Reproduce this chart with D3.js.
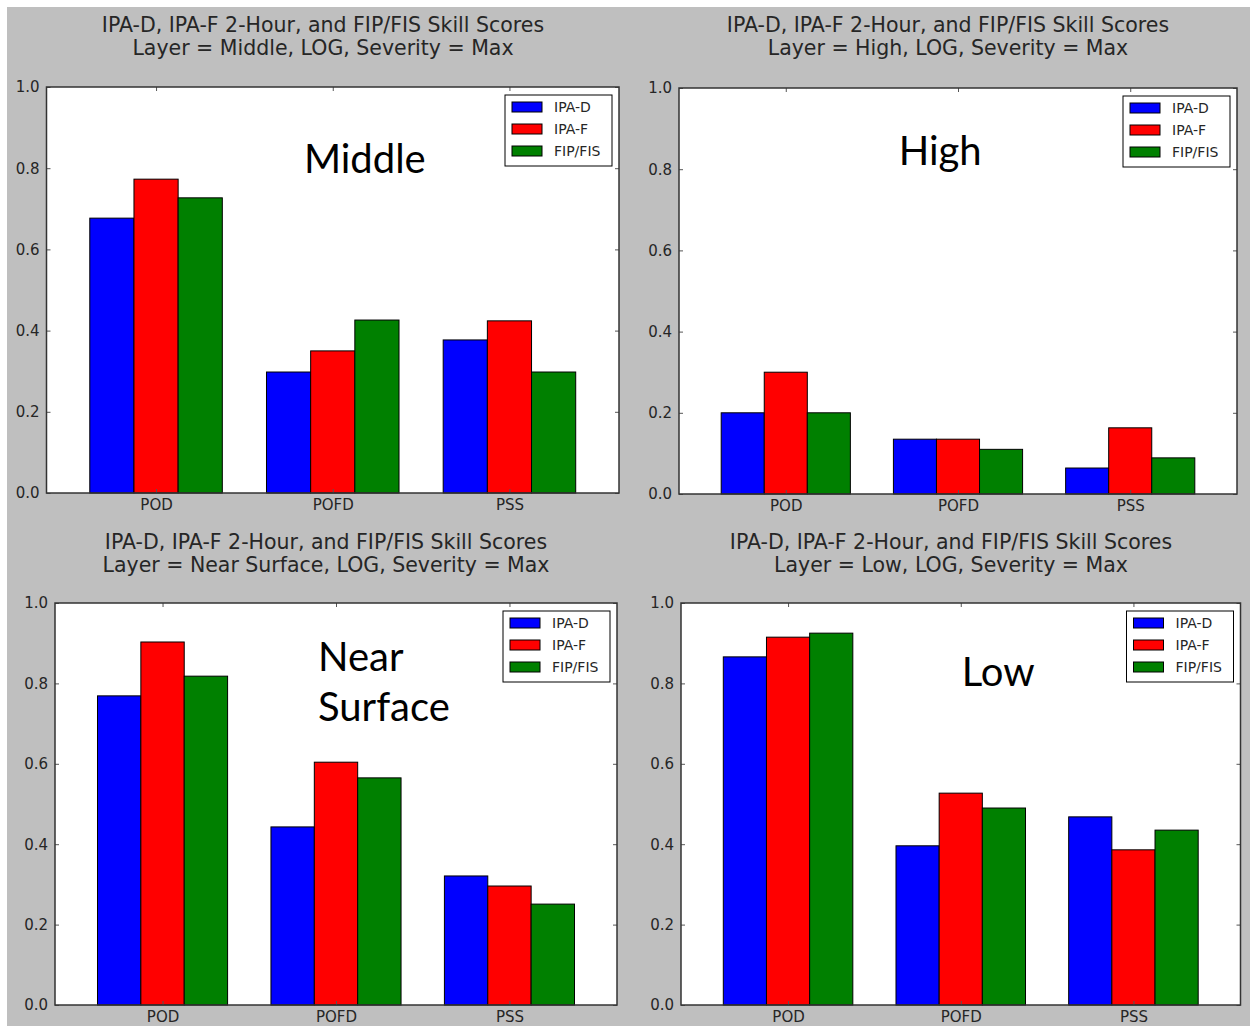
<!DOCTYPE html>
<html>
<head>
<meta charset="utf-8">
<script src="https://cdn.jsdelivr.net/npm/d3@7"></script>
<style>
  html, body { margin: 0; padding: 0; background: #ffffff; }
  svg { display: block; }
</style>
</head>
<body>
<svg id="chart" width="1250" height="1031"></svg>
<script>
// Skill-score categories and forecast products
const categories = ["POD", "POFD", "PSS"];
const seriesNames = ["IPA-D", "IPA-F", "FIP/FIS"];
const seriesColors = ["#0000ff", "#ff0000", "#008000"];
const yTicks = [0.0, 0.2, 0.4, 0.6, 0.8, 1.0];

// Scores per product (rows: IPA-D, IPA-F, FIP/FIS; columns: POD, POFD, PSS)
const middleValues = [
  [0.677, 0.298, 0.377],
  [0.773, 0.350, 0.424],
  [0.727, 0.426, 0.298]
];
const highValues = [
  [0.200, 0.135, 0.064],
  [0.300, 0.135, 0.163],
  [0.200, 0.110, 0.089]
];
const nearSurfaceValues = [
  [0.769, 0.443, 0.321],
  [0.903, 0.604, 0.296],
  [0.818, 0.565, 0.251]
];
const lowValues = [
  [0.866, 0.396, 0.468],
  [0.915, 0.527, 0.386],
  [0.925, 0.490, 0.435]
];

const layerNames = ["Middle", "High", "Near Surface", "Low"];
const layerLabels = [["Middle"], ["High"], ["Near", "Surface"], ["Low"]];
const layerValues = [middleValues, highValues, nearSurfaceValues, lowValues];

// Axes boxes for the 2x2 grid
const panels = [
  { left: 46.5, right: 619,   top: 87,  bottom: 493,  titleX: 323, titleY: 32,
    note: { x: 0.556, y: 0.212, anchor: "middle" } },
  { left: 679,  right: 1237,  top: 88,  bottom: 494,  titleX: 948, titleY: 32,
    note: { x: 0.468, y: 0.190, anchor: "middle" } },
  { left: 55,   right: 617,   top: 603, bottom: 1005, titleX: 326, titleY: 549,
    note: { x: 0.468, y: 0.168, anchor: "start", lineGap: 50 } },
  { left: 681,  right: 1240.5,top: 603, bottom: 1005, titleX: 951, titleY: 549,
    note: { x: 0.567, y: 0.206, anchor: "middle" } }
];

const svg = d3.select("#chart");
const titleFont = "'DejaVu Sans', sans-serif";
const textColor = "#262626";

// Figure background
svg.append("rect")
  .attr("x", 7).attr("y", 7)
  .attr("width", 1243).attr("height", 1019)
  .attr("fill", "#bfbfbf");

const barWidth = 0.25;
const offsets = [-0.375, -0.125, 0.125];

panels.forEach((p, pi) => {
  const g = svg.append("g");
  const x = d3.scaleLinear().domain([-0.62, 2.62]).range([p.left, p.right]);
  const y = d3.scaleLinear().domain([0, 1]).range([p.bottom, p.top]);

  // Axes face
  g.append("rect")
    .attr("x", p.left).attr("y", p.top)
    .attr("width", p.right - p.left).attr("height", p.bottom - p.top)
    .attr("fill", "#ffffff");

  // Bars
  layerValues[pi].forEach((vals, si) => {
    g.selectAll(null)
      .data(vals)
      .enter().append("rect")
      .attr("x", (d, ci) => x(ci + offsets[si]))
      .attr("width", (d, ci) => x(ci + offsets[si] + barWidth) - x(ci + offsets[si]))
      .attr("y", d => y(d))
      .attr("height", d => y(0) - y(d))
      .attr("fill", seriesColors[si])
      .attr("stroke", "#000")
      .attr("stroke-width", 1);
  });

  // Inward ticks on all four sides
  const tickLen = 4;
  const tickColor = "#555";
  const leftAxis = d3.axisLeft(y).tickValues(yTicks).tickFormat(d3.format(".1f"))
    .tickSizeInner(-tickLen).tickSizeOuter(0).tickPadding(7);
  const ly = g.append("g").attr("transform", `translate(${p.left},0)`).call(leftAxis);
  const rightAxis = d3.axisRight(y).tickValues(yTicks).tickFormat("")
    .tickSizeInner(-tickLen).tickSizeOuter(0);
  const ry = g.append("g").attr("transform", `translate(${p.right},0)`).call(rightAxis);
  const bottomAxis = d3.axisBottom(x).tickValues([0, 1, 2]).tickFormat(i => categories[i])
    .tickSizeInner(-tickLen).tickSizeOuter(0).tickPadding(6);
  const bx = g.append("g").attr("transform", `translate(0,${p.bottom})`).call(bottomAxis);
  const topAxis = d3.axisTop(x).tickValues([0, 1, 2]).tickFormat("")
    .tickSizeInner(-tickLen).tickSizeOuter(0);
  const tx = g.append("g").attr("transform", `translate(0,${p.top})`).call(topAxis);

  [ly, ry, bx, tx].forEach(a => {
    a.select(".domain").remove();
    a.selectAll(".tick line").attr("stroke", tickColor);
    a.selectAll(".tick text")
      .attr("font-family", titleFont)
      .attr("font-size", 15)
      .attr("fill", textColor);
  });

  // Axes frame
  g.append("rect")
    .attr("x", p.left).attr("y", p.top)
    .attr("width", p.right - p.left).attr("height", p.bottom - p.top)
    .attr("fill", "none")
    .attr("stroke", "#333")
    .attr("stroke-width", 1.5);

  // Title
  const title = g.append("text")
    .attr("x", p.titleX).attr("y", p.titleY)
    .attr("text-anchor", "middle")
    .attr("font-family", titleFont)
    .attr("font-size", 20.5)
    .attr("fill", textColor);
  title.append("tspan").attr("x", p.titleX).attr("dy", 0)
    .text("IPA-D, IPA-F 2-Hour, and FIP/FIS Skill Scores");
  title.append("tspan").attr("x", p.titleX).attr("dy", 23)
    .text(`Layer = ${layerNames[pi]}, LOG, Severity = Max`);

  // Layer annotation
  const nx = p.left + p.note.x * (p.right - p.left);
  const ny = p.top + p.note.y * (p.bottom - p.top);
  layerLabels[pi].forEach((line, li) => {
    g.append("text")
      .attr("x", nx).attr("y", ny + li * (p.note.lineGap || 0))
      .attr("text-anchor", p.note.anchor)
      .attr("font-family", "Lato, 'Open Sans', sans-serif")
      .attr("font-size", 40)
      .attr("fill", "#000")
      .text(line);
  });

  // Legend
  const lgW = 107, lgH = 71;
  const lgX = p.right - 7 - lgW, lgY = p.top + 8;
  const lg = g.append("g").attr("transform", `translate(${lgX},${lgY})`);
  lg.append("rect")
    .attr("width", lgW).attr("height", lgH)
    .attr("fill", "#fff").attr("stroke", "#000").attr("stroke-width", 1);
  seriesNames.forEach((name, si) => {
    const rowY = 12 + si * 22;
    lg.append("rect")
      .attr("x", 7).attr("y", rowY - 5)
      .attr("width", 30).attr("height", 10)
      .attr("fill", seriesColors[si])
      .attr("stroke", "#000").attr("stroke-width", 1);
    lg.append("text")
      .attr("x", 49).attr("y", rowY)
      .attr("dominant-baseline", "central")
      .attr("font-family", titleFont)
      .attr("font-size", 14)
      .attr("fill", textColor)
      .text(name);
  });
});
</script>
</body>
</html>
